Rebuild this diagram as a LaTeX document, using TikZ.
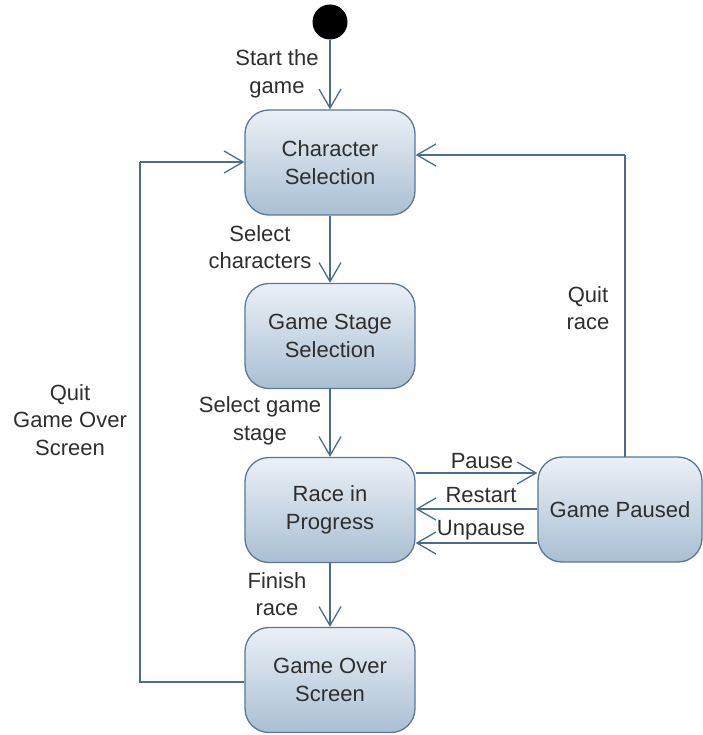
\documentclass[tikz,border=0pt]{standalone}
\usepackage{fontspec}
\setmainfont{Liberation Sans}
\usetikzlibrary{arrows.meta}
\definecolor{edgeblue}{HTML}{4A6D8F}
\definecolor{boxtop}{HTML}{EBF0F6}
\definecolor{boxbot}{HTML}{A9BFD3}
\definecolor{boxline}{HTML}{587896}
\definecolor{txt}{HTML}{2E2E2E}
\begin{document}
\begin{tikzpicture}[x=1pt,y=-1pt,
  state/.style={rectangle, rounded corners=24pt, draw=boxline, line width=1.3pt,
    top color=boxtop, bottom color=boxbot, minimum width=170pt, minimum height=105pt,
    align=center, text=txt, font=\fontsize{22}{28}\selectfont, inner sep=0pt},
  lbl/.style={align=center, text=txt, font=\fontsize{22}{27.5}\selectfont, inner sep=0pt},
  trans/.style={draw=edgeblue, line width=1.3pt, -{Straight Barb[length=19pt,width=22pt,line width=1.3pt]}},
  link/.style={draw=edgeblue, line width=1.3pt}]
\useasboundingbox (0,0) rectangle (702,735);

% start point
\node[circle, fill=black, minimum size=35pt, inner sep=0pt] (start) at (330,22) {};

% states
\node[state] (chars) at (330,162.5) {Character\\Selection};
\node[state] (stage) at (330,336) {Game Stage\\Selection};
\node[state] (race)  at (330,510) {Race in\\Progress};
\node[state] (over)  at (330,680) {Game Over\\Screen};
\node[state, minimum width=164pt] (paused) at (620,509.5) {Game Paused};

% corner points of the return paths
\coordinate (qgL) at (140,682);
\coordinate (qgT) at (140,162);
\coordinate (qrB) at (625,457);
\coordinate (qrT) at (625,155);

% main flow
\draw[trans] (start) -- (chars);
\draw[trans] (chars) -- (stage);
\draw[trans] (stage) -- (race);
\draw[trans] (race) -- (over);

% pause / restart / unpause
\draw[trans] (race.east |- 0,473) -- (paused.west |- 0,473);
\draw[trans] (paused.west |- 0,509) -- (race.east |- 0,509);
\draw[trans] (paused.west |- 0,543) -- (race.east |- 0,543);

% quit from game over screen
\draw[link] (over.west |- qgL) -- (qgL) -- (qgT);
\draw[trans] (qgT) -- (chars.west |- qgT);

% quit race
\draw[link] (qrB) -- (qrT);
\draw[trans] (qrT) -- (chars.east |- qrT);

% transition labels
\node[lbl] (l1) at (277,74) {Start the\\game};
\node[lbl] (l2) at (260,247) {Select\\characters};
\node[lbl] (l3) at (260,421) {Select game\\stage};
\node[lbl] (l4) at (277,594) {Finish\\race};
\node[lbl] (l5) at (70,420) {Quit\\Game Over\\Screen};
\node[lbl] (l6) at (588,308) {Quit\\race};
\node[lbl] (l7) at (482,461) {Pause};
\node[lbl] (l8) at (481,495) {Restart};
\node[lbl] (l9) at (481,530) {Unpause};
\end{tikzpicture}
\end{document}
